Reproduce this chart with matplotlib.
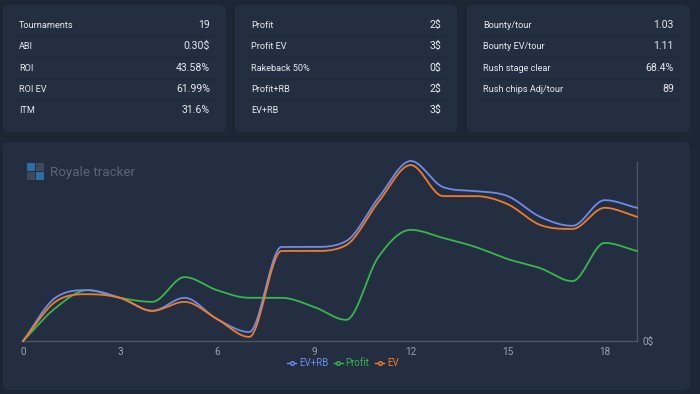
import numpy as np
import matplotlib
matplotlib.use('Agg')
import matplotlib.pyplot as plt
from matplotlib.patches import FancyBboxPatch, Rectangle
from matplotlib.lines import Line2D

plt.rcParams['font.family'] = ['Roboto', 'DejaVu Sans']

# --- data ---
tours = np.arange(0, 20)
ev_rb = [0, 0.96, 1.13, 0.96, 0.67, 0.96, 0.49, 0.20, 2.09, 2.09,
         2.22, 3.18, 4.00, 3.42, 3.33, 3.22, 2.76, 2.56, 3.13, 2.96]
profit = [0, 0.73, 1.13, 0.96, 0.87, 1.42, 1.13, 0.96, 0.96, 0.76,
          0.47, 1.87, 2.47, 2.29, 2.09, 1.82, 1.62, 1.33, 2.18, 2.00]
ev = [0, 0.87, 1.04, 0.96, 0.67, 0.87, 0.49, 0.09, 2.00, 2.00,
      2.13, 3.09, 3.91, 3.22, 3.22, 3.04, 2.58, 2.49, 2.96, 2.76]

stats_left = [('Tournaments', '19'), ('ABI', '0.30$'), ('ROI', '43.58%'),
              ('ROI EV', '61.99%'), ('ITM', '31.6%')]
stats_mid = [('Profit', '2$'), ('Profit EV', '3$'), ('Rakeback 50%', '0$'),
             ('Profit+RB', '2$'), ('EV+RB', '3$')]
stats_right = [('Bounty/tour', '1.03'), ('Bounty EV/tour', '1.11'),
               ('Rush stage clear', '68.4%'), ('Rush chips Adj/tour', '89')]

BG = '#1c2634'
PANEL = '#232f40'
SEP = '#1f2a39'
TXT = '#e6e9ee'
TICK = '#9aa3b0'
C_BLUE = '#6a8cf0'
C_GREEN = '#36b84a'
C_ORANGE = '#f47b20'


def pchip(x, y, xs):
    # monotone cubic (Fritsch-Carlson), like chart.js 'monotone'
    x = np.asarray(x, float)
    y = np.asarray(y, float)
    h = np.diff(x)
    d = np.diff(y) / h
    m = np.zeros_like(y)
    m[0], m[-1] = d[0], d[-1]
    for i in range(1, len(y) - 1):
        if d[i - 1] * d[i] <= 0:
            m[i] = 0
        else:
            m[i] = (d[i - 1] + d[i]) / 2
    for i in range(len(d)):
        if d[i] == 0:
            m[i] = m[i + 1] = 0
            continue
        a, b = m[i] / d[i], m[i + 1] / d[i]
        s = a * a + b * b
        if s > 9:
            t = 3 / np.sqrt(s)
            m[i] = t * a * d[i]
            m[i + 1] = t * b * d[i]
    idx = np.clip(np.searchsorted(x, xs) - 1, 0, len(x) - 2)
    t = (xs - x[idx]) / h[idx]
    h00 = 2 * t**3 - 3 * t**2 + 1
    h10 = t**3 - 2 * t**2 + t
    h01 = -2 * t**3 + 3 * t**2
    h11 = t**3 - t**2
    return h00 * y[idx] + h10 * h[idx] * m[idx] + h01 * y[idx + 1] + h11 * h[idx] * m[idx + 1]


fig = plt.figure(figsize=(7, 3.94), dpi=100, facecolor=BG)

# background layer in pixel coordinates
bg = fig.add_axes([0, 0, 1, 1])
bg.set_xlim(0, 700)
bg.set_ylim(394, 0)
bg.axis('off')


def panel(x0, y0, x1, y1):
    bg.add_patch(FancyBboxPatch((x0, y0), x1 - x0, y1 - y0,
                                boxstyle='round,pad=0,rounding_size=6',
                                fc=PANEL, ec='none'))


def stat_block(x0, x1, rows):
    ys = [25, 46, 68, 89, 110]
    for i, (lab, val) in enumerate(rows):
        bg.text(x0 + 16, ys[i], lab, color=TXT, fontsize=6.6, va='center', ha='left')
        bg.text(x1 - 16, ys[i], val, color=TXT, fontsize=7.6, va='center', ha='right')
        if i < 4:
            bg.plot([x0 + 12, x1 - 12], [ys[i] + 11, ys[i] + 11], color=SEP, lw=0.8)


panel(3, 5, 226, 132)
panel(235, 5, 457, 132)
panel(467, 5, 690, 132)
panel(3, 142, 690, 390)
stat_block(3, 226, stats_left)
stat_block(235, 457, stats_mid)
stat_block(467, 690, stats_right)

# logo
bg.add_patch(Rectangle((27, 163), 8, 8, fc='#2b6fa6', ec='none'))
bg.add_patch(Rectangle((36, 172), 8, 8, fc='#2b6fa6', ec='none'))
bg.add_patch(Rectangle((36, 163), 8, 8, fc='#3e4a5a', ec='none'))
bg.add_patch(Rectangle((27, 172), 8, 8, fc='#3e4a5a', ec='none'))
bg.text(50, 172, 'Royale tracker', color='#5b6576', fontsize=9.6, va='center', ha='left')

# chart
ymax = 179 / 45
ax = fig.add_axes([23 / 700, 1 - 341 / 394, (637 - 23) / 700, (341 - 162) / 394])
ax.set_facecolor('none')
ax.set_xlim(0, 19)
ax.set_ylim(0, ymax)

xs = np.linspace(0, 19, 800)
for series, col, lab in [(profit, C_GREEN, 'Profit'), (ev_rb, C_BLUE, 'EV+RB'), (ev, C_ORANGE, 'EV')]:
    ax.plot(xs, pchip(tours, series, xs), color=col, lw=1.3, clip_on=False, zorder=3)

for s in ['top', 'left']:
    ax.spines[s].set_visible(False)
ax.spines['bottom'].set_color('#4b5564')
ax.spines['right'].set_color('#4b5564')
ax.spines['bottom'].set_linewidth(1)
ax.spines['right'].set_linewidth(1)
ax.set_xticks(range(0, 19, 3))
ax.set_yticks([0])
ax.set_yticklabels(['0$'])
ax.yaxis.tick_right()
ax.tick_params(axis='both', length=0, colors=TICK, labelsize=7.2)
ax.tick_params(axis='x', pad=4)
ax.tick_params(axis='y', pad=4)

handles = [Line2D([], [], color=c, lw=1, marker='o', ms=2.6, mfc=PANEL, mec=c, label=l)
           for c, l in [(C_BLUE, 'EV+RB'), (C_GREEN, 'Profit'), (C_ORANGE, 'EV')]]
fig.legend(handles=handles, loc='center', bbox_to_anchor=(343 / 700, 1 - 363 / 394),
           ncol=3, frameon=False, fontsize=7.0, labelcolor='linecolor',
           handlelength=0.9, handletextpad=0.3, columnspacing=0.6)

fig.savefig('out.png', dpi=100, facecolor=BG)
